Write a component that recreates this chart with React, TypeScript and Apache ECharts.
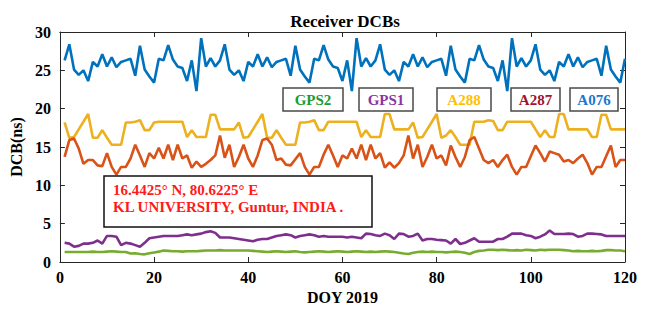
import React, { useEffect, useRef } from "react";
import * as echarts from "echarts";

// Day of year 1..120
const DOY: number[] = Array.from({ length: 120 }, (_, i) => i + 1);

const A076: number[] = [
  26.3, 28.4, 25.1, 24.4, 25.0, 23.6, 26.1, 25.5, 27.1, 25.5, 26.7, 25.4, 26.1, 26.3, 26.5, 24.3, 28.2, 25.1, 24.2, 23.4,
  26.5, 26.3, 28.3, 26.4, 25.5, 25.3, 23.6, 26.3, 22.3, 29.2, 25.5, 26.6, 25.5,
  26.3, 28.4, 25.1, 24.4, 25.0, 23.6, 26.1, 25.5, 27.1, 25.5, 26.7, 25.4, 26.1, 26.3, 26.5, 24.3, 28.2, 25.1, 24.2, 23.4,
  26.5, 26.3, 28.3, 26.4, 25.5, 25.3, 23.6, 26.3, 22.3, 29.2, 25.5, 26.6, 25.5,
  26.3, 28.4, 25.1, 24.4, 25.0, 23.6, 26.1, 25.5, 27.1, 25.5, 26.7, 25.4, 26.1, 26.3, 26.5, 24.3, 28.2, 25.1, 24.2, 23.4,
  26.5, 26.3, 28.3, 26.4, 25.5, 25.3, 23.6, 26.3, 22.3, 29.2, 25.5, 26.6, 25.5,
  26.3, 28.4, 25.1, 24.4, 25.0, 23.6, 26.1, 25.5, 27.1, 25.5, 26.7, 25.4, 26.1, 26.3, 26.5, 24.3, 28.2, 25.1, 24.2, 23.4,
  26.5,
];

const A288: number[] = [
  18.2, 16.2, 16.3, 17.3, 18.3, 19.3, 16.2, 16.2, 17.2, 16.2,
  15.3, 15.3, 15.3, 18.2, 18.2, 18.3, 18.5, 17.2, 17.2, 18.2,
  18.3, 18.3, 18.3, 18.3, 18.3, 18.3, 16.3, 17.2, 16.3, 16.3,
  16.3, 19.2, 19.2, 17.3, 17.3, 17.3, 17.3, 18.2, 16.2, 16.3,
  17.3, 18.3, 19.3, 16.2, 16.2, 17.2, 16.2, 15.3, 15.3, 15.3,
  18.2, 18.2, 18.3, 18.5, 17.2, 17.2, 18.3, 18.3, 18.3, 18.3,
  18.3, 18.3, 18.3, 16.3, 17.2, 16.3, 16.3, 16.3, 19.3, 19.3,
  17.3, 17.3, 17.3, 17.3, 18.2, 16.2, 16.3, 17.3, 18.3, 19.3,
  16.2, 16.5, 17.2, 16.3, 15.3, 15.3, 15.3, 18.3, 18.3, 18.3,
  18.5, 18.4, 17.2, 17.2, 18.3, 18.3, 18.3, 18.3, 18.3, 18.3,
  17.3, 16.3, 17.2, 16.3, 16.3, 19.3, 19.3, 17.3, 17.3, 17.3,
  17.3, 17.3, 16.3, 16.3, 19.2, 19.2, 17.3, 17.3, 17.3, 17.3,
];

const A287: number[] = [
  13.7, 15.9, 16.1, 14.8, 12.8, 13.3, 13.3, 12.6, 12.5, 14.2,
  12.4, 11.4, 12.4, 12.4, 13.5, 15.3, 13.9, 12.4, 14.2, 13.5,
  14.9, 13.5, 15.3, 13.3, 15.3, 13.5, 13.9, 12.3, 13.1, 12.4,
  12.8, 13.3, 13.9, 16.5, 13.6, 15.3, 12.4, 13.7, 15.3, 13.5,
  12.4, 13.9, 15.9, 16.1, 15.3, 13.3, 13.5, 12.7, 12.6, 13.4,
  14.2, 12.4, 11.4, 12.4, 12.4, 14.0, 15.3, 13.9, 12.4, 13.9,
  13.5, 14.8, 13.5, 15.3, 13.3, 15.3, 13.5, 14.2, 12.3, 13.0,
  12.3, 12.9, 13.9, 16.5, 13.5, 15.3, 12.4, 13.7, 15.3, 13.5,
  13.9, 12.6, 15.2, 13.7, 12.4, 13.7, 15.9, 16.3, 14.8, 13.3,
  12.9, 13.3, 12.4, 13.3, 14.0, 12.4, 11.4, 12.4, 12.4, 13.8,
  15.2, 14.2, 13.1, 14.4, 14.2, 14.0, 13.1, 13.3, 12.9, 13.5,
  14.0, 12.9, 11.4, 12.4, 12.4, 13.8, 15.2, 12.4, 13.3, 13.3,
];

const GPS1: number[] = [
  2.5, 2.4, 2.0, 2.1, 2.4, 2.4, 2.5, 2.8, 2.4, 3.4,
  3.4, 3.3, 2.2, 2.5, 2.4, 2.2, 2.0, 2.5, 3.1, 3.2,
  3.3, 3.4, 3.4, 3.4, 3.4, 3.5, 3.6, 3.5, 3.6, 3.7,
  3.9, 4.0, 3.8, 3.2, 3.2, 3.2, 3.1, 3.0, 2.9, 2.8,
  2.7, 2.9, 3.0, 3.0, 3.2, 3.4, 3.5, 3.6, 3.5, 3.2,
  3.4, 3.5, 3.6, 3.5, 3.3, 3.4, 3.3, 3.3, 3.3, 3.3,
  3.2, 3.3, 3.2, 3.1, 3.7, 3.65, 3.5, 3.4, 3.7, 3.5,
  3.0, 3.7, 3.65, 3.3, 3.4, 3.7, 2.8, 3.0, 3.0, 2.9,
  2.85, 2.8, 2.4, 3.0, 2.35, 2.5, 2.8, 3.1, 2.65, 2.65,
  2.65, 2.65, 3.0, 3.0, 3.3, 3.7, 3.7, 3.7, 3.5, 3.4,
  3.1, 3.3, 3.6, 4.1, 3.65, 3.65, 3.65, 3.7, 3.65, 3.3,
  3.4, 3.7, 3.7, 3.65, 3.6, 3.4, 3.4, 3.4, 3.4, 3.4,
];

const GPS2: number[] = [
  1.3, 1.3, 1.3, 1.3, 1.3, 1.3, 1.35, 1.3, 1.3, 1.35,
  1.4, 1.35, 1.3, 1.3, 1.1, 1.15, 1.05, 1.0, 1.15, 1.25,
  1.35, 1.5, 1.45, 1.4, 1.4, 1.35, 1.4, 1.4, 1.4, 1.45,
  1.5, 1.5, 1.5, 1.55, 1.5, 1.5, 1.5, 1.5, 1.5, 1.5,
  1.45, 1.4, 1.35, 1.3, 1.35, 1.4, 1.35, 1.3, 1.35, 1.4,
  1.3, 1.25, 1.3, 1.35, 1.4, 1.35, 1.3, 1.35, 1.4, 1.35,
  1.3, 1.35, 1.4, 1.35, 1.3, 1.35, 1.3, 1.35, 1.4, 1.35,
  1.3, 1.2, 1.1, 1.05, 1.2, 1.3, 1.35, 1.3, 1.35, 1.3,
  1.3, 1.25, 1.3, 1.35, 1.3, 1.2, 1.05, 1.3, 1.45, 1.5,
  1.6, 1.6, 1.55, 1.6, 1.55, 1.5, 1.55, 1.5, 1.6, 1.55,
  1.5, 1.6, 1.55, 1.6, 1.6, 1.6, 1.55, 1.5, 1.4, 1.45,
  1.4, 1.4, 1.45, 1.4, 1.45, 1.55, 1.55, 1.5, 1.5, 1.4,
];

const X_TICKS = { min: 0, max: 120, interval: 20 };
const Y_TICKS = { min: 0, max: 30, interval: 5 };

const TITLE = "Receiver DCBs";
const X_NAME = "DOY 2019";
const Y_NAME = "DCB(ns)";
const INFO_LINES = ["16.4425° N, 80.6225° E", "KL UNIVERSITY, Guntur, INDIA ."];

const LEGEND_LABELS = ["GPS2", "GPS1", "A288", "A287", "A076"];
const LEGEND_TEXT_COLORS = ["#23992f", "#8a35a3", "#ffc000", "#a3142e", "#1a78cf"];

const FONT = "'Liberation Serif', 'Times New Roman', serif";

export default function App() {
  const ref = useRef<HTMLDivElement>(null);

  useEffect(() => {
    if (!ref.current) return;
    const chart = echarts.init(ref.current, undefined, { renderer: "svg" });

    const pairs = (vals: number[]) => vals.map((v, i) => [DOY[i], v]);
    const axisColor = "#262626";
    const labelStyle = { fontFamily: FONT, fontWeight: "bold" as const, fontSize: 16, color: "#000" };

    const mkLine = (name: string, data: number[], color: string) => ({
      name,
      type: "line",
      data: pairs(data),
      showSymbol: false,
      symbol: "none",
      lineStyle: { color, width: 2.6 },
      itemStyle: { color },
      xAxisIndex: 0,
      yAxisIndex: 0,
    });

    const legendBoxes = [
      { x: 283, w: 60 },
      { x: 359, w: 54 },
      { x: 437, w: 54 },
      { x: 511, w: 49 },
      { x: 570, w: 48 },
    ];

    const graphics: any[] = [];
    legendBoxes.forEach((b, i) => {
      graphics.push({
        type: "rect",
        z: 100,
        shape: { x: b.x, y: 88, width: b.w, height: 23 },
        style: { fill: "#fff", stroke: "#4a4a4a", lineWidth: 1.5 },
      });
      graphics.push({
        type: "text",
        z: 101,
        x: b.x + b.w / 2,
        y: 100,
        style: {
          text: LEGEND_LABELS[i],
          fill: LEGEND_TEXT_COLORS[i],
          font: `bold 15px ${FONT}`,
          textAlign: "center",
          textVerticalAlign: "middle",
        },
      });
    });
    graphics.push({
      type: "rect",
      z: 100,
      shape: { x: 104, y: 176, width: 268, height: 51 },
      style: { fill: "#fff", stroke: "#111", lineWidth: 1.5 },
    });
    INFO_LINES.forEach((t, i) => {
      graphics.push({
        type: "text",
        z: 101,
        x: 113,
        y: 190 + i * 17,
        style: {
          text: t,
          fill: "#ff1a1a",
          font: `bold 15px ${FONT}`,
          textAlign: "left",
          textVerticalAlign: "middle",
        },
      });
    });

    chart.setOption({
      animation: false,
      backgroundColor: "#fff",
      textStyle: { fontFamily: FONT },
      title: {
        text: TITLE,
        left: 340,
        top: 8,
        textAlign: "center",
        textStyle: { fontFamily: FONT, fontWeight: "bold", fontSize: 17, color: "#000" },
      },
      grid: { left: 57, right: 30, top: 32, bottom: 52 },
      xAxis: [
        {
          type: "value",
          ...X_TICKS,
          position: "bottom",
          name: X_NAME,
          nameLocation: "middle",
          nameGap: 26,
          nameTextStyle: labelStyle,
          axisLine: { show: true, onZero: false, lineStyle: { color: axisColor, width: 1 } },
          axisTick: { show: true, inside: true, length: 5, lineStyle: { color: axisColor } },
          axisLabel: { ...labelStyle, margin: 7 },
          splitLine: { show: false },
        },
        {
          type: "value",
          ...X_TICKS,
          position: "top",
          axisLine: { show: true, onZero: false, lineStyle: { color: axisColor, width: 1 } },
          axisTick: { show: true, inside: true, length: 5, lineStyle: { color: axisColor } },
          axisLabel: { show: false },
          splitLine: { show: false },
        },
      ],
      yAxis: [
        {
          type: "value",
          ...Y_TICKS,
          position: "left",
          name: Y_NAME,
          nameLocation: "middle",
          nameGap: 31,
          nameTextStyle: labelStyle,
          axisLine: { show: true, onZero: false, lineStyle: { color: axisColor, width: 1 } },
          axisTick: { show: true, inside: true, length: 5, lineStyle: { color: axisColor } },
          axisLabel: { ...labelStyle, margin: 9 },
          splitLine: { show: false },
        },
        {
          type: "value",
          ...Y_TICKS,
          position: "right",
          axisLine: { show: true, onZero: false, lineStyle: { color: axisColor, width: 1 } },
          axisTick: { show: true, inside: true, length: 5, lineStyle: { color: axisColor } },
          axisLabel: { show: false },
          splitLine: { show: false },
        },
      ],
      series: [
        mkLine("A076", A076, "#0072BD"),
        mkLine("A288", A288, "#EDB120"),
        mkLine("A287", A287, "#D95319"),
        mkLine("GPS1", GPS1, "#7E2F8E"),
        mkLine("GPS2", GPS2, "#77AC30"),
      ],
      graphic: graphics,
    });

    return () => chart.dispose();
  }, []);

  return (
    <div
      ref={ref}
      style={{ position: "absolute", left: 0, top: 0, width: 655, height: 314, background: "#fff" }}
    />
  );
}
